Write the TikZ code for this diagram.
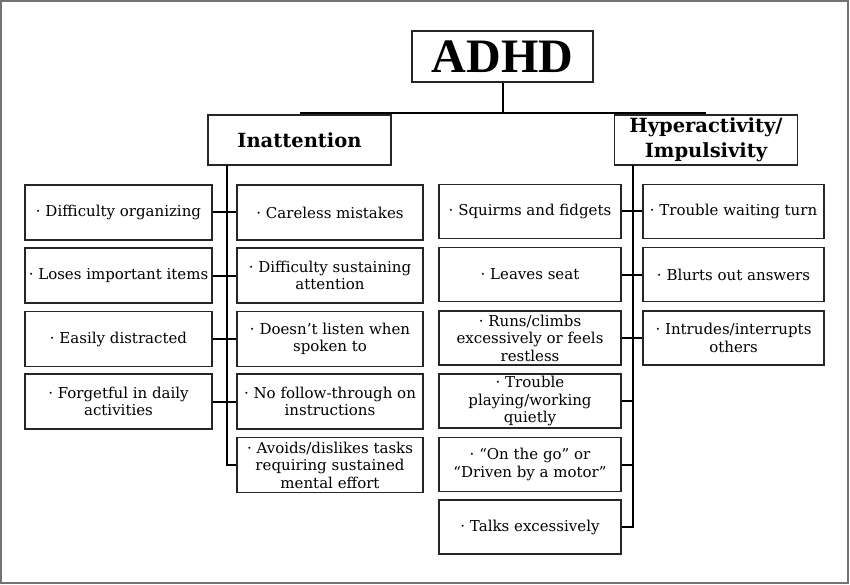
\documentclass[tikz,border=0pt]{standalone}
\usepackage{fontspec}
\setmainfont{DejaVu Serif}
\newfontfamily\adhdfont{Liberation Serif}
\begin{document}
\begin{tikzpicture}[x=1pt,y=-1pt,
  box/.style={draw=black!85, line width=1.4pt, fill=white, align=center, inner sep=1pt},
  item/.style={box, font=\fontsize{15}{17.5}\selectfont},
  ileft/.style={item, minimum width=187pt, minimum height=55pt},
  iright/.style={item, minimum width=186pt, minimum height=55pt},
  hleft/.style={item, minimum width=182pt, minimum height=54pt},
  hright/.style={item, minimum width=181pt, minimum height=54pt},
  head/.style={box, font=\fontsize{19.5}{25.5}\selectfont\bfseries, minimum width=183pt, minimum height=50pt},
  conn/.style={draw=black, line width=2pt}]
\useasboundingbox (0,0) rectangle (850,585);
\draw[black!55, line width=1.5pt] (1,1) rectangle (848,583);

% top
\node[box, minimum width=181pt, minimum height=51pt, font=\adhdfont\fontsize{48}{50}\selectfont\bfseries] (adhd) at (502.5,56.5) {ADHD};

\node[head] (inat) at (299.5,140) {Inattention};
\node[head] (hyp) at (706,140) {Hyperactivity/\\Impulsivity};

% Inattention items
\node[ileft] (il1) at (118.5,212.5) {· Difficulty organizing};
\node[ileft] (il2) at (118.5,275.5) {· Loses important items};
\node[ileft] (il3) at (118.5,339) {· Easily distracted};
\node[ileft] (il4) at (118.5,401.5) {· Forgetful in daily\\activities};
\node[iright] (ir1) at (330,212.5) {· Careless mistakes};
\node[iright] (ir2) at (330,275.5) {· Difficulty sustaining\\attention};
\node[iright] (ir3) at (330,339) {· Doesn’t listen when\\spoken to};
\node[iright] (ir4) at (330,401.5) {· No follow-through on\\instructions};
\node[iright] (ir5) at (330,465) {· Avoids/dislikes tasks\\requiring sustained\\mental effort};

% Hyperactivity items
\node[hleft] (hl1) at (530,211.5) {· Squirms and fidgets};
\node[hleft] (hl2) at (530,274.5) {· Leaves seat};
\node[hleft] (hl3) at (530,338) {· Runs/climbs\\excessively or feels\\restless};
\node[hleft] (hl4) at (530,401) {· Trouble\\playing/working\\quietly};
\node[hleft] (hl5) at (530,464.5) {· “On the go” or\\“Driven by a motor”};
\node[hleft] (hl6) at (530,527) {· Talks excessively};
\node[hright] (hr1) at (733.5,211.5) {· Trouble waiting turn};
\node[hright] (hr2) at (733.5,274.5) {· Blurts out answers};
\node[hright] (hr3) at (733.5,338) {· Intrudes/interrupts\\others};

% connectors
\draw[conn] (adhd.south) -- ([yshift=1.5pt]adhd.south |- inat.north);
\draw[conn] ([yshift=1.5pt]inat.north) -- ([yshift=1.5pt]hyp.north);

\coordinate (itop) at (227,165);
\coordinate (htop) at (633,165);
\draw[conn] (itop) |- (ir5.west);
\draw[conn] (htop) |- (hl6.east);
\foreach \i in {1,2,3,4}{\draw[conn] (il\i.east) -- (ir\i.west);}
\foreach \i in {1,2,3}{\draw[conn] (hl\i.east) -- (hr\i.west);}
\foreach \i in {4,5}{\draw[conn] (hl\i.east) -- (hl\i.east -| htop);}
\end{tikzpicture}
\end{document}
